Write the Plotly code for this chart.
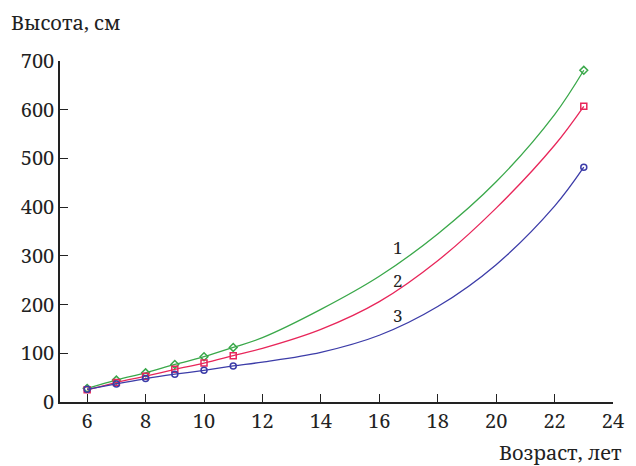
import plotly.graph_objects as go

# measured points (markers)
age_pts = [6, 7, 8, 9, 10, 11, 23]
h1_pts = [28, 45, 60, 77, 93, 112, 681]
h2_pts = [25, 40, 53, 67, 80, 95, 607]
h3_pts = [26, 37, 48, 57, 65, 74, 482]

# fitted curves
age_fit = [6, 7, 8, 9, 10, 11, 12, 14, 16, 18, 20, 22, 23]
h1_fit = [28, 45, 60, 77, 93, 112, 132, 190, 258, 345, 452, 590, 681]
h2_fit = [25, 40, 53, 67, 80, 95, 110, 149, 206, 290, 398, 527, 607]
h3_fit = [26, 37, 48, 57, 65, 74, 82, 102, 137, 196, 282, 402, 482]

labels = ["1", "2", "3"]
label_x = [16.65, 16.65, 16.65]
label_y = [318, 249, 177]

x_ticks = [6, 8, 10, 12, 14, 16, 18, 20, 22, 24]
y_ticks = [0, 100, 200, 300, 400, 500, 600, 700]

colors = ["#3aa84a", "#e8265a", "#3c3ca8"]
symbols = ["diamond-open", "square-open", "circle-open"]

fig = go.Figure()
for fit, pts, c, s in zip([h1_fit, h2_fit, h3_fit], [h1_pts, h2_pts, h3_pts], colors, symbols):
    fig.add_trace(go.Scatter(x=age_fit, y=fit, mode="lines",
                             line=dict(color=c, width=1.3, shape="spline", smoothing=1.0),
                             showlegend=False, hoverinfo="skip"))
    fig.add_trace(go.Scatter(x=age_pts, y=pts, mode="markers",
                             marker=dict(symbol=s, size=6, color=c, line=dict(color=c, width=1.5)),
                             showlegend=False))

font = "Noto Serif"
for t, lx, ly in zip(labels, label_x, label_y):
    fig.add_annotation(x=lx, y=ly, text=t, showarrow=False,
                       font=dict(family=font, size=17, color="#222"))

fig.add_annotation(xref="paper", yref="paper", x=-0.092, y=1.114, xanchor="left", yanchor="middle",
                   text="Высота, см", showarrow=False, font=dict(family=font, size=20, color="#222"))
fig.add_annotation(xref="paper", yref="paper", x=1.02, y=-0.147, xanchor="right", yanchor="middle",
                   text="Возраст, лет", showarrow=False, font=dict(family=font, size=20, color="#222"))

fig.update_layout(
    width=636, height=466,
    margin=dict(l=60, r=14, t=61, b=64),
    paper_bgcolor="white", plot_bgcolor="white",
    font=dict(family=font, size=20, color="#222"),
    xaxis=dict(range=[5.07, 24], tickvals=x_ticks, ticks="inside", ticklen=8, tickwidth=1.3,
               tickcolor="#222", showline=True, linecolor="#222", linewidth=1.5,
               showgrid=False, zeroline=False, tickfont=dict(family=font, size=20)),
    yaxis=dict(range=[0, 700], tickvals=y_ticks, ticks="inside", ticklen=8, tickwidth=1.3,
               tickcolor="#222", showline=True, linecolor="#222", linewidth=1.5,
               showgrid=False, zeroline=False, tickfont=dict(family=font, size=20)),
)

fig.write_html("out.html")
